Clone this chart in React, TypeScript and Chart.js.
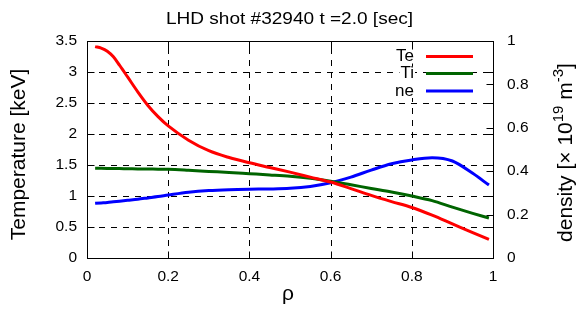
import React, { useEffect, useRef } from "react";
import { Chart, registerables } from "chart.js";

Chart.register(...registerables);

// ---- data ----
const rho = [0.02, 0.035, 0.05, 0.065, 0.08, 0.1, 0.125, 0.15, 0.175, 0.2, 0.25, 0.3, 0.35, 0.4, 0.45, 0.5, 0.55, 0.6, 0.65, 0.7, 0.75, 0.8, 0.85, 0.9, 0.95, 0.99];
const te = [3.41, 3.385, 3.335, 3.245, 3.11, 2.92, 2.68, 2.46, 2.28, 2.13, 1.9, 1.73, 1.62, 1.535, 1.46, 1.385, 1.305, 1.225, 1.12, 1.01, 0.91, 0.815, 0.69, 0.55, 0.41, 0.3];
const ti = [1.447, 1.446, 1.445, 1.444, 1.442, 1.44, 1.437, 1.435, 1.432, 1.43, 1.415, 1.397, 1.38, 1.36, 1.34, 1.318, 1.285, 1.237, 1.18, 1.122, 1.065, 1.0, 0.925, 0.82, 0.72, 0.645];
const ne = [0.252, 0.254, 0.256, 0.259, 0.262, 0.266, 0.271, 0.277, 0.283, 0.29, 0.303, 0.311, 0.315, 0.317, 0.318, 0.321, 0.33, 0.347, 0.373, 0.405, 0.434, 0.452, 0.462, 0.447, 0.39, 0.336];

const seriesNames = ["Te", "Ti", "ne"];
const seriesColors = ["#ff0000", "#006400", "#0000ff"];

const xTicks = [0, 0.2, 0.4, 0.6, 0.8, 1];
const yTicks = [0, 0.5, 1, 1.5, 2, 2.5, 3, 3.5];
const y2Ticks = [0, 0.2, 0.4, 0.6, 0.8, 1];

const TITLE = "LHD shot #32940 t =2.0 [sec]";
const X_TITLE = "ρ";
const Y_TITLE = "Temperature [keV]";
const FONT = "'Liberation Sans', Arial, Helvetica, sans-serif";

export default function App() {
  const ref = useRef<HTMLCanvasElement | null>(null);

  useEffect(() => {
    document.body.style.margin = "0";
    const canvas = ref.current!;

    const overlay = {
      id: "overlay",
      beforeDatasetsDraw(chart: any) {
        const { ctx, chartArea: a, scales } = chart;
        ctx.save();
        ctx.strokeStyle = "#000";
        ctx.lineWidth = 1;
        ctx.setLineDash([6, 6]);
        for (const v of xTicks.slice(1, -1)) {
          const px = Math.round(scales.x.getPixelForValue(v)) + 0.5;
          ctx.beginPath();
          ctx.moveTo(px, a.bottom);
          ctx.lineTo(px, a.top);
          ctx.stroke();
        }
        for (const v of yTicks.slice(1, -1)) {
          const py = Math.round(scales.y.getPixelForValue(v)) + 0.5;
          ctx.beginPath();
          ctx.moveTo(a.left, py);
          ctx.lineTo(a.right, py);
          ctx.stroke();
        }
        ctx.restore();
      },
      afterDatasetsDraw(chart: any) {
        const { ctx, chartArea: a, scales } = chart;
        ctx.save();
        ctx.setLineDash([]);
        ctx.strokeStyle = "#000";
        ctx.lineWidth = 1;
        const L = Math.round(a.left) + 0.5;
        const R = Math.round(a.right) + 0.5;
        const T = Math.round(a.top) + 0.5;
        const B = Math.round(a.bottom) + 0.5;
        ctx.strokeRect(L, T, R - L, B - T);
        const tl = 7;
        ctx.beginPath();
        for (const v of xTicks) {
          const px = Math.round(scales.x.getPixelForValue(v)) + 0.5;
          ctx.moveTo(px, B); ctx.lineTo(px, B - tl);
          ctx.moveTo(px, T); ctx.lineTo(px, T + tl);
        }
        for (const v of yTicks) {
          const py = Math.round(scales.y.getPixelForValue(v)) + 0.5;
          ctx.moveTo(L, py); ctx.lineTo(L + tl, py);
          ctx.moveTo(R, py); ctx.lineTo(R - tl, py);
        }
        for (const v of y2Ticks) {
          const py = Math.round(scales.y2.getPixelForValue(v)) + 0.5;
          ctx.moveTo(R, py); ctx.lineTo(R - tl, py);
        }
        ctx.stroke();

        // legend
        ctx.font = `17px ${FONT}`;
        ctx.textAlign = "right";
        ctx.textBaseline = "middle";
        const rows = [56.5, 73.5, 91];
        seriesNames.forEach((n, i) => {
          const w = ctx.measureText(n).width;
          ctx.fillStyle = "#fff";
          ctx.fillRect(414 - w - 1, rows[i] - 7, w + 2, 14);
          ctx.fillStyle = "#000";
          ctx.fillText(n, 414, rows[i]);
          ctx.strokeStyle = seriesColors[i];
          ctx.lineWidth = 3;
          ctx.beginPath();
          ctx.moveTo(426, rows[i]);
          ctx.lineTo(473, rows[i]);
          ctx.stroke();
        });

        // title (slightly wide face, as in the reference)
        ctx.fillStyle = "#000";
        ctx.textBaseline = "alphabetic";
        ctx.save();
        ctx.translate(289.5, 24);
        ctx.scale(1.12, 1);
        ctx.textAlign = "center";
        ctx.font = `17px ${FONT}`;
        ctx.fillText(TITLE, 0, 0);
        ctx.restore();

        // x title
        ctx.textAlign = "center";
        ctx.font = `21px ${FONT}`;
        ctx.fillText(X_TITLE, 288, 299.5);

        // left y title
        ctx.save();
        ctx.translate(25, 154.5);
        ctx.rotate(-Math.PI / 2);
        ctx.textAlign = "center";
        ctx.fillText(Y_TITLE, 0, 0);
        ctx.restore();

        // right y title with superscripts
        const parts: [string, boolean][] = [
          ["density [× 10", false],
          ["19", true],
          [" m", false],
          ["-3", true],
          ["]", false],
        ];
        const big = `21px ${FONT}`;
        const small = `15px ${FONT}`;
        let total = 0;
        for (const [s, sup] of parts) {
          ctx.font = sup ? small : big;
          total += ctx.measureText(s).width;
        }
        ctx.save();
        ctx.translate(572, 152.5);
        ctx.rotate(-Math.PI / 2);
        ctx.textAlign = "left";
        let xx = -total / 2;
        for (const [s, sup] of parts) {
          ctx.font = sup ? small : big;
          ctx.fillText(s, xx, sup ? -9 : 0);
          xx += ctx.measureText(s).width;
        }
        ctx.restore();

        ctx.restore();
      },
    };

    const tickFont = { family: FONT, size: 15.5 };
    const datasetsSrc = [te, ti, ne];
    const chart = new Chart(canvas, {
      type: "line",
      data: {
        datasets: datasetsSrc.map((arr, i) => ({
          label: seriesNames[i],
          data: rho.map((x, j) => ({ x, y: arr[j] })),
          borderColor: seriesColors[i],
          backgroundColor: seriesColors[i],
          borderWidth: 3,
          pointRadius: 0,
          fill: false,
          cubicInterpolationMode: "monotone" as const,
          yAxisID: i === 2 ? "y2" : "y",
        })),
      },
      options: {
        responsive: false,
        maintainAspectRatio: false,
        animation: false,
        layout: { padding: { top: 41, left: 0, right: 0, bottom: 0 } },
        plugins: {
          legend: { display: false },
          title: { display: false },
          tooltip: { enabled: false },
        },
        scales: {
          x: {
            type: "linear",
            min: 0,
            max: 1,
            grid: { display: false, drawTicks: false },
            border: { display: false },
            afterBuildTicks: (s: any) => { s.ticks = xTicks.map((v) => ({ value: v })); },
            ticks: { color: "#000", font: tickFont, padding: 9, maxRotation: 0, autoSkip: false, callback: (v: any) => String(v) },
            afterFit: (s: any) => { s.height = 62; },
          },
          y: {
            type: "linear",
            position: "left",
            min: 0,
            max: 3.5,
            grid: { display: false, drawTicks: false },
            border: { display: false },
            afterBuildTicks: (s: any) => { s.ticks = yTicks.map((v) => ({ value: v })); },
            ticks: { color: "#000", font: tickFont, padding: 10, autoSkip: false, callback: (v: any) => String(v) },
            afterFit: (s: any) => { s.width = 87; },
          },
          y2: {
            type: "linear",
            position: "right",
            min: 0,
            max: 1,
            grid: { display: false, drawTicks: false },
            border: { display: false },
            afterBuildTicks: (s: any) => { s.ticks = y2Ticks.map((v) => ({ value: v })); },
            ticks: { color: "#000", font: tickFont, padding: 14, autoSkip: false, callback: (v: any) => String(v) },
            afterFit: (s: any) => { s.width = 84; },
          },
        },
      },
      plugins: [overlay],
    });
    return () => chart.destroy();
  }, []);

  return (
    <div style={{ width: 577, height: 320 }}>
      <canvas ref={ref} width={577} height={320} style={{ display: "block" }} />
    </div>
  );
}
